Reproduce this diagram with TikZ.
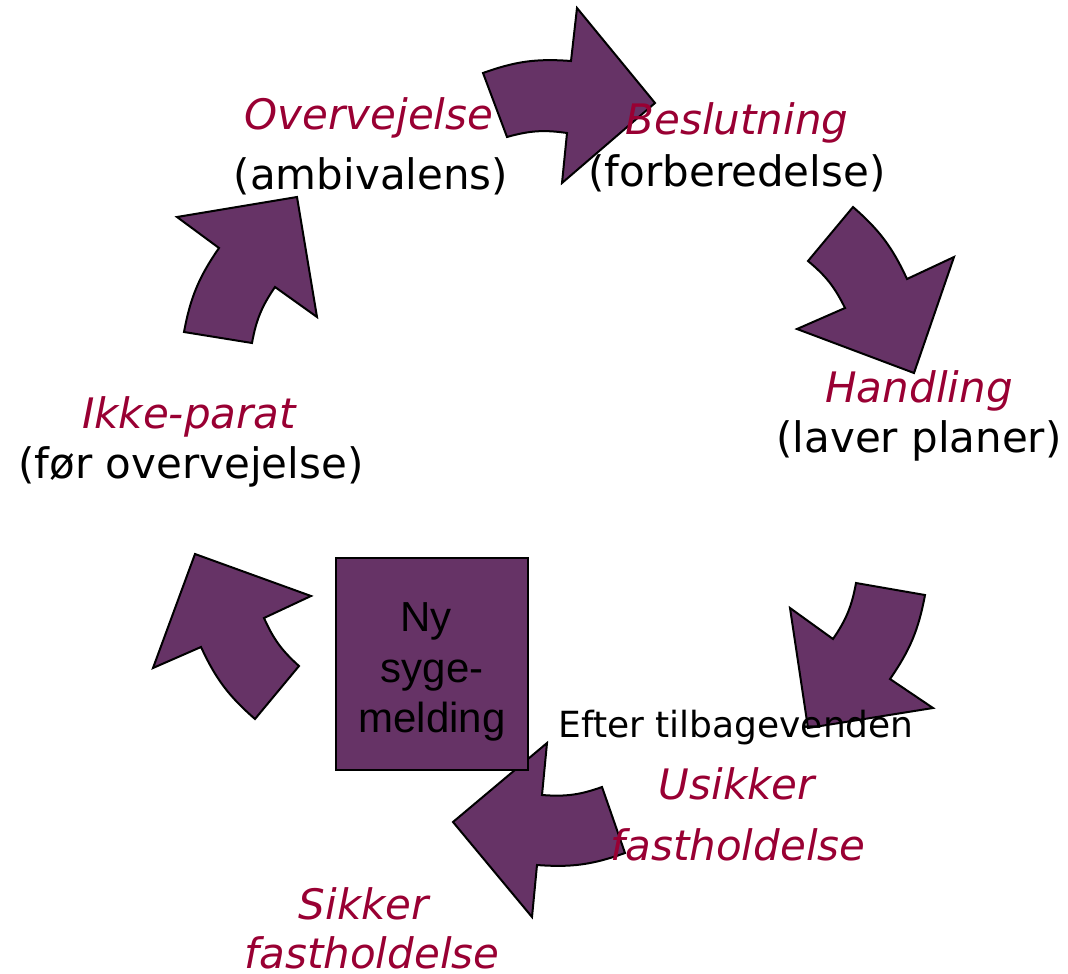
\documentclass[tikz,border=0pt]{standalone}
\usepackage{fontspec}
\setmainfont{DejaVu Sans}
\newfontfamily\boxfont{Liberation Sans}
\definecolor{cyclepurple}{HTML}{663366}
\definecolor{stagered}{HTML}{990033}
\begin{document}
\begin{tikzpicture}[x=1pt,y=1pt,
  cyclearrow/.style={fill=cyclepurple,draw=black,line width=2pt,line join=miter},
  stagename/.style={anchor=base,inner sep=0pt,text=stagered,font=\fontsize{42}{50}\selectfont\itshape},
  stagenote/.style={anchor=base,inner sep=0pt,text=black,font=\fontsize{42}{50}\selectfont},
  smallnote/.style={anchor=base,inner sep=0pt,text=black,font=\fontsize{36}{44}\selectfont},
  boxtext/.style={anchor=base,inner sep=0pt,text=black,font=\boxfont\fontsize{42}{50}\selectfont},
  startbox/.style={draw=black,fill=cyclepurple,line width=2pt,inner sep=0pt,minimum width=192pt,minimum height=212pt}]
\useasboundingbox (0,0) rectangle (1068,-974);

% curved arrows of the cycle, clockwise from the top
\draw[cyclearrow] (483,-73) to[bend left=12] (571,-61) -- (577,-8) -- (655,-103) -- (562,-183) -- (567,-133) to[bend right=12] (507,-137) -- cycle;
\draw[cyclearrow] (853,-207) to[bend left=12] (907,-279) -- (954,-257) -- (914,-373) -- (797,-329) -- (845,-308) to[bend right=12] (808,-261) -- cycle;
\draw[cyclearrow] (925,-595) to[bend left=12] (890,-679) -- (933,-708) -- (808,-728) -- (790,-608) -- (833,-639) to[bend right=12] (856,-583) -- cycle;
\draw[cyclearrow] (625,-853) to[bend left=12] (537,-865) -- (532,-917) -- (453,-822) -- (547,-743) -- (542,-795) to[bend right=12] (602,-787) -- cycle;
\draw[cyclearrow] (255,-719) to[bend left=12] (201,-647) -- (153,-668) -- (195,-554) -- (311,-596) -- (264,-618) to[bend right=12] (299,-666) -- cycle;
\draw[cyclearrow] (184,-332) to[bend left=12] (219,-248) -- (177,-217) -- (297,-197) -- (317,-317) -- (275,-287) to[bend right=12] (252,-343) -- cycle;

% entry box
\node[startbox] (newleave) at (432,-664) {};
\node[boxtext] (ny) at (426,-631) {Ny};
\node[boxtext] (syge) at (432,-682) {syge-};
\node[boxtext] (melding) at (432,-732) {melding};

% stage labels
\node[stagename] (overvejelse) at (369,-129) {Overvejelse};
\node[stagenote] (ambivalens) at (371,-189) {(ambivalens)};
\node[stagename] (beslutning) at (737,-134) {Beslutning};
\node[stagenote] (forberedelse) at (737,-186) {(forberedelse)};
\node[stagename] (handling) at (919,-402) {Handling};
\node[stagenote] (planer) at (919,-452) {(laver planer)};
\node[stagename] (ikkeparat) at (189,-428) {Ikke-parat};
\node[stagenote] (foer) at (191,-478) {(før overvejelse)};
\node[smallnote] (efter) at (736,-737) {Efter tilbagevenden};
\node[stagename] (usikker) at (737,-799) {Usikker};
\node[stagename] (ufast) at (738,-860) {fastholdelse};
\node[stagename] (sikker) at (364,-919) {Sikker};
\node[stagename] (sfast) at (372,-968) {fastholdelse};
\end{tikzpicture}
\end{document}
